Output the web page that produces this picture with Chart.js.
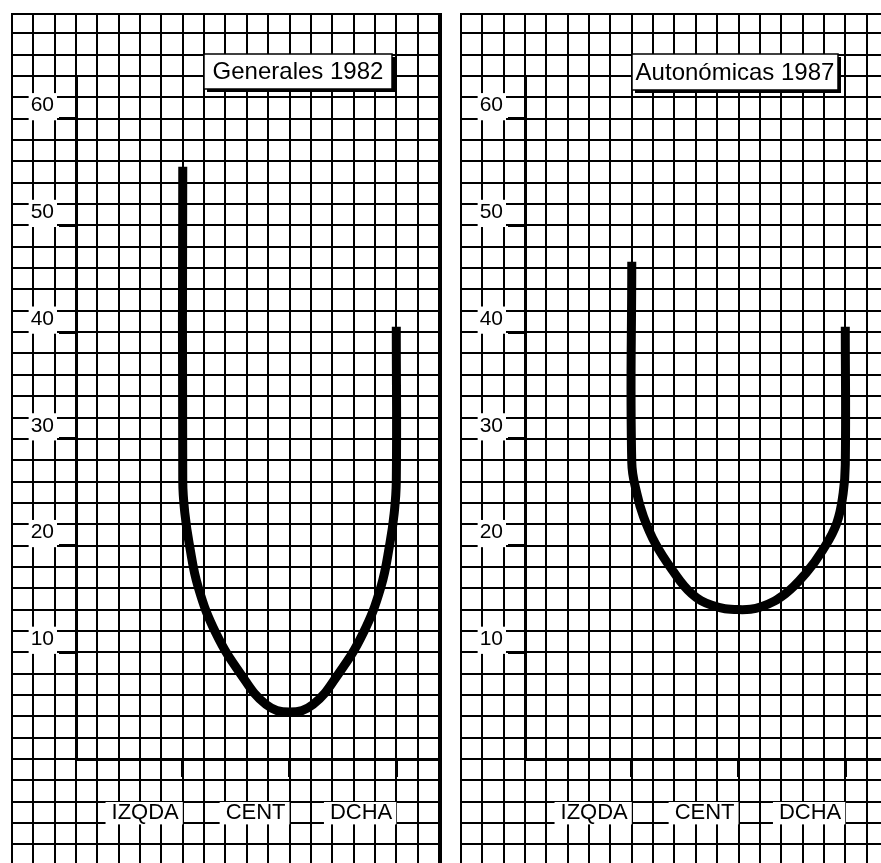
<!DOCTYPE html>
<html>
<head>
<meta charset="utf-8">
<script src="https://cdn.jsdelivr.net/npm/chart.js"></script>
<style>
    html, body { margin: 0; padding: 0; background: #fff; }
    body { width: 881px; height: 863px; overflow: hidden; position: relative; }
    canvas { position: absolute; top: 13px; }
    #c1 { left: 10px; }
    #c2 { left: 459px; }
</style>
</head>
<body>
<canvas id="c1" width="433" height="850"></canvas>
<canvas id="c2" width="433" height="850"></canvas>
<script>
// ejes
const categories = ['IZQDA', 'CENT', 'DCHA'];
const yTicks = [10, 20, 30, 40, 50, 60];

// Generales 1982 (x: 0 = IZQDA, 1 = CENT, 2 = DCHA)
const gen82X = [0, 0, 0.02, 0.06, 0.145, 0.31, 0.54, 0.78, 1.0, 1.22, 1.46, 1.69, 1.855, 1.94, 1.98, 2, 2];
const gen82Y = [55.5, 26, 23, 20.2, 16.1, 11.8, 8.0, 5.1, 4.4, 5.1, 8.0, 11.8, 16.1, 20.2, 23, 26, 40.5];

// Autonómicas 1987
const aut87X = [0, 0, 0.047, 0.11, 0.22, 0.38, 0.56, 0.75, 1.0, 1.22, 1.44, 1.63, 1.79, 1.92, 1.98, 2, 2];
const aut87Y = [46.6, 27.8, 24.9, 22.7, 20.2, 17.7, 15.5, 14.4, 14.0, 14.3, 15.5, 17.4, 19.6, 22.1, 24.9, 27.6, 40.5];

Chart.defaults.font.family = '"Liberation Sans", Arial, sans-serif';
Chart.defaults.color = '#000';

// papel cuadriculado de fondo, alineado con las escalas
const paperGrid = {
    id: 'paperGrid',
    beforeDraw(chart) {
        const { ctx, chartArea, scales, width, height } = chart;
        const stepX = scales.x.getPixelForValue(0.2) - scales.x.getPixelForValue(0);
        const stepY = scales.y.getPixelForValue(0) - scales.y.getPixelForValue(2);
        const right = chartArea.right;
        ctx.save();
        ctx.fillStyle = '#fff';
        ctx.fillRect(0, 0, width, height);
        ctx.fillStyle = '#000';
        const x0 = chartArea.left - Math.floor(chartArea.left / stepX) * stepX;
        for (let x = x0; x < right - 2; x += stepX) {
            ctx.fillRect(Math.round(x) - 1, 0, 2, height);
        }
        const y0 = chartArea.bottom - Math.floor(chartArea.bottom / stepY) * stepY;
        for (let y = y0; y < height; y += stepY) {
            ctx.fillRect(Math.round(x0) - 1, Math.round(y) - 1, right - x0, 2);
        }
        // marco del panel
        ctx.fillRect(Math.round(x0) - 1, 0, right - x0 + 1, 2);
        ctx.fillRect(Math.round(right) - 1, 0, 4, height);
        ctx.restore();
    }
};

// recuadro del título con sombra
const titleBox = {
    id: 'titleBox',
    afterDraw(chart, args, opts) {
        const { ctx } = chart;
        const { text, left, right, top, bottom } = opts;
        ctx.save();
        ctx.fillStyle = '#fff';
        ctx.fillRect(left, top, right - left, bottom - top);
        ctx.strokeStyle = '#000';
        ctx.lineWidth = 1.5;
        ctx.strokeRect(left, top, right - left, bottom - top);
        ctx.fillStyle = '#000';
        ctx.fillRect(right, top + 3, 3, bottom - top);
        ctx.fillRect(left + 3, bottom, right - left, 3);
        ctx.font = '24px "Liberation Sans", Arial, sans-serif';
        ctx.textAlign = 'center';
        ctx.textBaseline = 'middle';
        ctx.fillText(text, (left + right) / 2, (top + bottom) / 2 + 1);
        ctx.restore();
    }
};

function makeChart(id, title, xs, ys, box) {
    const ctx = document.getElementById(id).getContext('2d');
    return new Chart(ctx, {
        type: 'line',
        data: {
            datasets: [{
                label: title,
                data: xs.map((x, i) => ({ x: x, y: ys[i] })),
                borderColor: '#000',
                borderWidth: 9,
                borderCapStyle: 'butt',
                borderJoinStyle: 'round',
                pointRadius: 0,
                tension: 0.42,
                fill: false
            }]
        },
        options: {
            responsive: false,
            animation: false,
            devicePixelRatio: 1,
            layout: { padding: { left: 0, top: 63, right: 4, bottom: 0 } },
            plugins: {
                legend: { display: false },
                tooltip: { enabled: false },
                titleBox: Object.assign({ text: title }, box)
            },
            scales: {
                x: {
                    type: 'linear',
                    min: -1,
                    max: 2.4,
                    afterBuildTicks: s => { s.ticks = categories.map((c, i) => ({ value: i })); },
                    afterFit: s => { s.height = 104; },
                    ticks: {
                        callback: v => categories[v],
                        autoSkip: false,
                        maxRotation: 0,
                        align: 'end',
                        labelOffset: -4,
                        padding: 23,
                        font: { size: 22 },
                        showLabelBackdrop: true,
                        backdropColor: '#fff',
                        backdropPadding: { left: 6, right: 4, top: -2, bottom: -2 }
                    },
                    grid: { drawOnChartArea: false, drawTicks: true, tickLength: 18, tickWidth: 3, tickColor: '#000' },
                    border: { display: true, color: '#000', width: 3 }
                },
                y: {
                    min: 0,
                    max: 64,
                    afterBuildTicks: s => { s.ticks = yTicks.map(v => ({ value: v })); },
                    afterFit: s => { s.width = 66; },
                    ticks: {
                        padding: 5,
                        labelOffset: -13,
                        font: { size: 21 },
                        showLabelBackdrop: true,
                        backdropColor: '#fff',
                        backdropPadding: { left: 2, right: 3, top: 0, bottom: 2 }
                    },
                    grid: { drawOnChartArea: false, drawTicks: true, tickLength: 17, tickWidth: 3, tickColor: '#000' },
                    border: { display: true, color: '#000', width: 3 }
                }
            }
        },
        plugins: [paperGrid, titleBox]
    });
}

makeChart('c1', 'Generales 1982', gen82X, gen82Y, { left: 194, right: 382, top: 41, bottom: 76 });
makeChart('c2', 'Autonómicas 1987', aut87X, aut87Y, { left: 173, right: 379, top: 41, bottom: 77 });
</script>
</body>
</html>
